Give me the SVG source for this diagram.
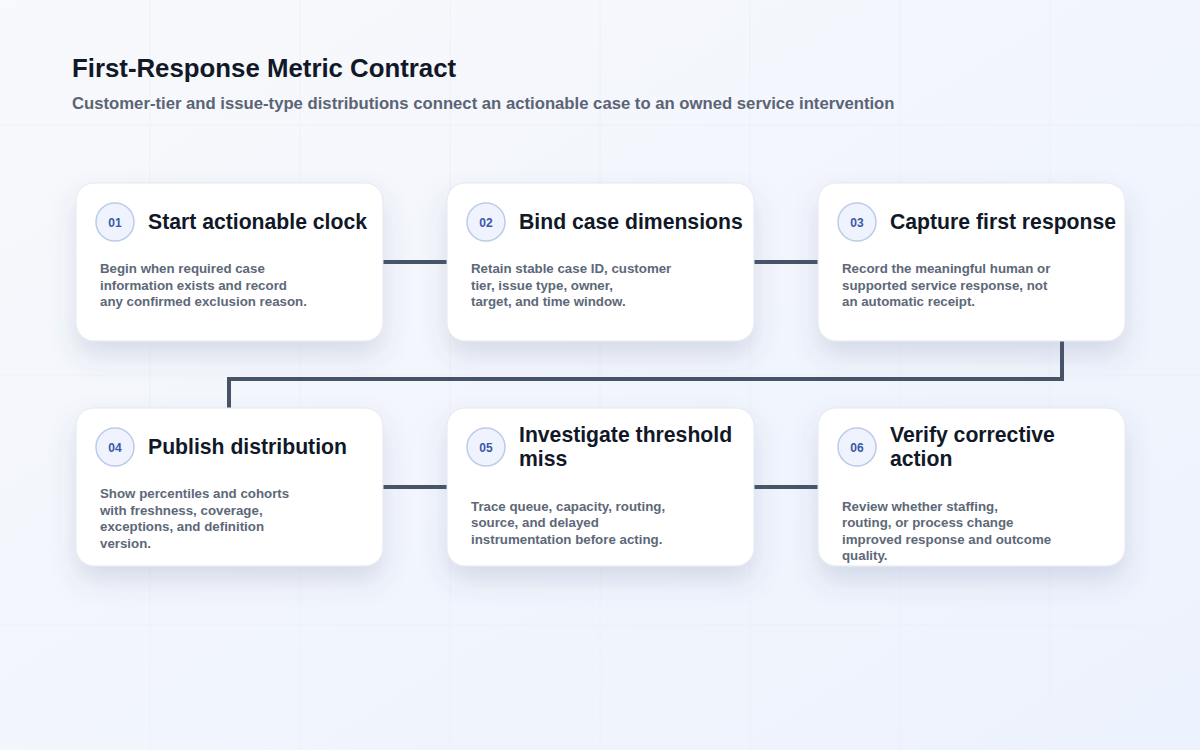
<svg xmlns="http://www.w3.org/2000/svg" width="1200" height="750" viewBox="0 0 1200 750">
<defs>
<linearGradient id="bg" x1="0" y1="0" x2="1" y2="1">
<stop offset="0" stop-color="#f8f9fc"/>
<stop offset="1" stop-color="#ecf2fd"/>
</linearGradient>
<filter id="sh" x="-20%" y="-20%" width="140%" height="170%">
<feDropShadow dx="0" dy="14" stdDeviation="13" flood-color="#4a5a85" flood-opacity="0.17"/>
</filter>
<style>
.card{fill:#ffffff;stroke:#e3e7ef;stroke-width:1}
.badge{fill:#eef3fd;stroke:#bccbe9;stroke-width:1.5}
.num{font-family:"Liberation Sans",Arial,sans-serif;font-size:12px;font-weight:700;fill:#3a58a8;text-anchor:middle}
.ttl{font-family:"Liberation Sans",Arial,sans-serif;font-size:21.2px;font-weight:700;fill:#111827}
.body{font-family:"Liberation Sans",Arial,sans-serif;font-size:13.3px;font-weight:700;fill:#5d6878}
.grid{stroke:#e9edf4;stroke-width:1;opacity:0.6}
.conn{fill:none;stroke:#475467;stroke-width:4;stroke-linejoin:miter}
</style>
</defs>
<rect width="1200" height="750" fill="url(#bg)"/>
<g class="grid">
<line x1="150" y1="0" x2="150" y2="750"/>
<line x1="300" y1="0" x2="300" y2="750"/>
<line x1="450" y1="0" x2="450" y2="750"/>
<line x1="600" y1="0" x2="600" y2="750"/>
<line x1="750" y1="0" x2="750" y2="750"/>
<line x1="900" y1="0" x2="900" y2="750"/>
<line x1="1050" y1="0" x2="1050" y2="750"/>
<line x1="0" y1="125" x2="1200" y2="125"/>
<line x1="0" y1="375" x2="1200" y2="375"/>
<line x1="0" y1="625" x2="1200" y2="625"/>
</g>
<text x="72" y="77" font-family="Liberation Sans,Arial,sans-serif" font-size="25.8" font-weight="700" fill="#111827">First-Response Metric Contract</text>
<text x="72" y="109" font-family="Liberation Sans,Arial,sans-serif" font-size="16.7" font-weight="700" fill="#5b6475">Customer-tier and issue-type distributions connect an actionable case to an owned service intervention</text>
<g id="connectors">
<line class="conn" x1="383" y1="262" x2="447" y2="262"/>
<line class="conn" x1="754" y1="262" x2="818" y2="262"/>
<path class="conn" d="M1062 341 V379 H229 V408"/>
<line class="conn" x1="383" y1="487" x2="447" y2="487"/>
<line class="conn" x1="754" y1="487" x2="818" y2="487"/>
</g>
<g id="node1">
<rect class="card" x="76" y="183" width="307" height="158" rx="18" filter="url(#sh)"/>
<circle class="badge" cx="115" cy="222" r="19"/>
<text class="num" x="115" y="226.5">01</text>
<text class="ttl" x="148" y="229">Start actionable clock</text>
<text class="body" x="100" y="273">Begin when required case</text>
<text class="body" x="100" y="289.5">information exists and record</text>
<text class="body" x="100" y="306">any confirmed exclusion reason.</text>
</g>
<g id="node2">
<rect class="card" x="447" y="183" width="307" height="158" rx="18" filter="url(#sh)"/>
<circle class="badge" cx="486" cy="222" r="19"/>
<text class="num" x="486" y="226.5">02</text>
<text class="ttl" x="519" y="229">Bind case dimensions</text>
<text class="body" x="471" y="273">Retain stable case ID, customer</text>
<text class="body" x="471" y="289.5">tier, issue type, owner,</text>
<text class="body" x="471" y="306">target, and time window.</text>
</g>
<g id="node3">
<rect class="card" x="818" y="183" width="307" height="158" rx="18" filter="url(#sh)"/>
<circle class="badge" cx="857" cy="222" r="19"/>
<text class="num" x="857" y="226.5">03</text>
<text class="ttl" x="890" y="229">Capture first response</text>
<text class="body" x="842" y="273">Record the meaningful human or</text>
<text class="body" x="842" y="289.5">supported service response, not</text>
<text class="body" x="842" y="306">an automatic receipt.</text>
</g>
<g id="node4">
<rect class="card" x="76" y="408" width="307" height="158" rx="18" filter="url(#sh)"/>
<circle class="badge" cx="115" cy="447" r="19"/>
<text class="num" x="115" y="451.5">04</text>
<text class="ttl" x="148" y="454">Publish distribution</text>
<text class="body" x="100" y="498">Show percentiles and cohorts</text>
<text class="body" x="100" y="514.5">with freshness, coverage,</text>
<text class="body" x="100" y="531">exceptions, and definition</text>
<text class="body" x="100" y="547.5">version.</text>
</g>
<g id="node5">
<rect class="card" x="447" y="408" width="307" height="158" rx="18" filter="url(#sh)"/>
<circle class="badge" cx="486" cy="447" r="19"/>
<text class="num" x="486" y="451.5">05</text>
<text class="ttl" x="519" y="442">Investigate threshold</text>
<text class="ttl" x="519" y="466">miss</text>
<text class="body" x="471" y="510.5">Trace queue, capacity, routing,</text>
<text class="body" x="471" y="527">source, and delayed</text>
<text class="body" x="471" y="543.5">instrumentation before acting.</text>
</g>
<g id="node6">
<rect class="card" x="818" y="408" width="307" height="158" rx="18" filter="url(#sh)"/>
<circle class="badge" cx="857" cy="447" r="19"/>
<text class="num" x="857" y="451.5">06</text>
<text class="ttl" x="890" y="442">Verify corrective</text>
<text class="ttl" x="890" y="466">action</text>
<text class="body" x="842" y="510.5">Review whether staffing,</text>
<text class="body" x="842" y="527">routing, or process change</text>
<text class="body" x="842" y="543.5">improved response and outcome</text>
<text class="body" x="842" y="560">quality.</text>
</g>
</svg>
